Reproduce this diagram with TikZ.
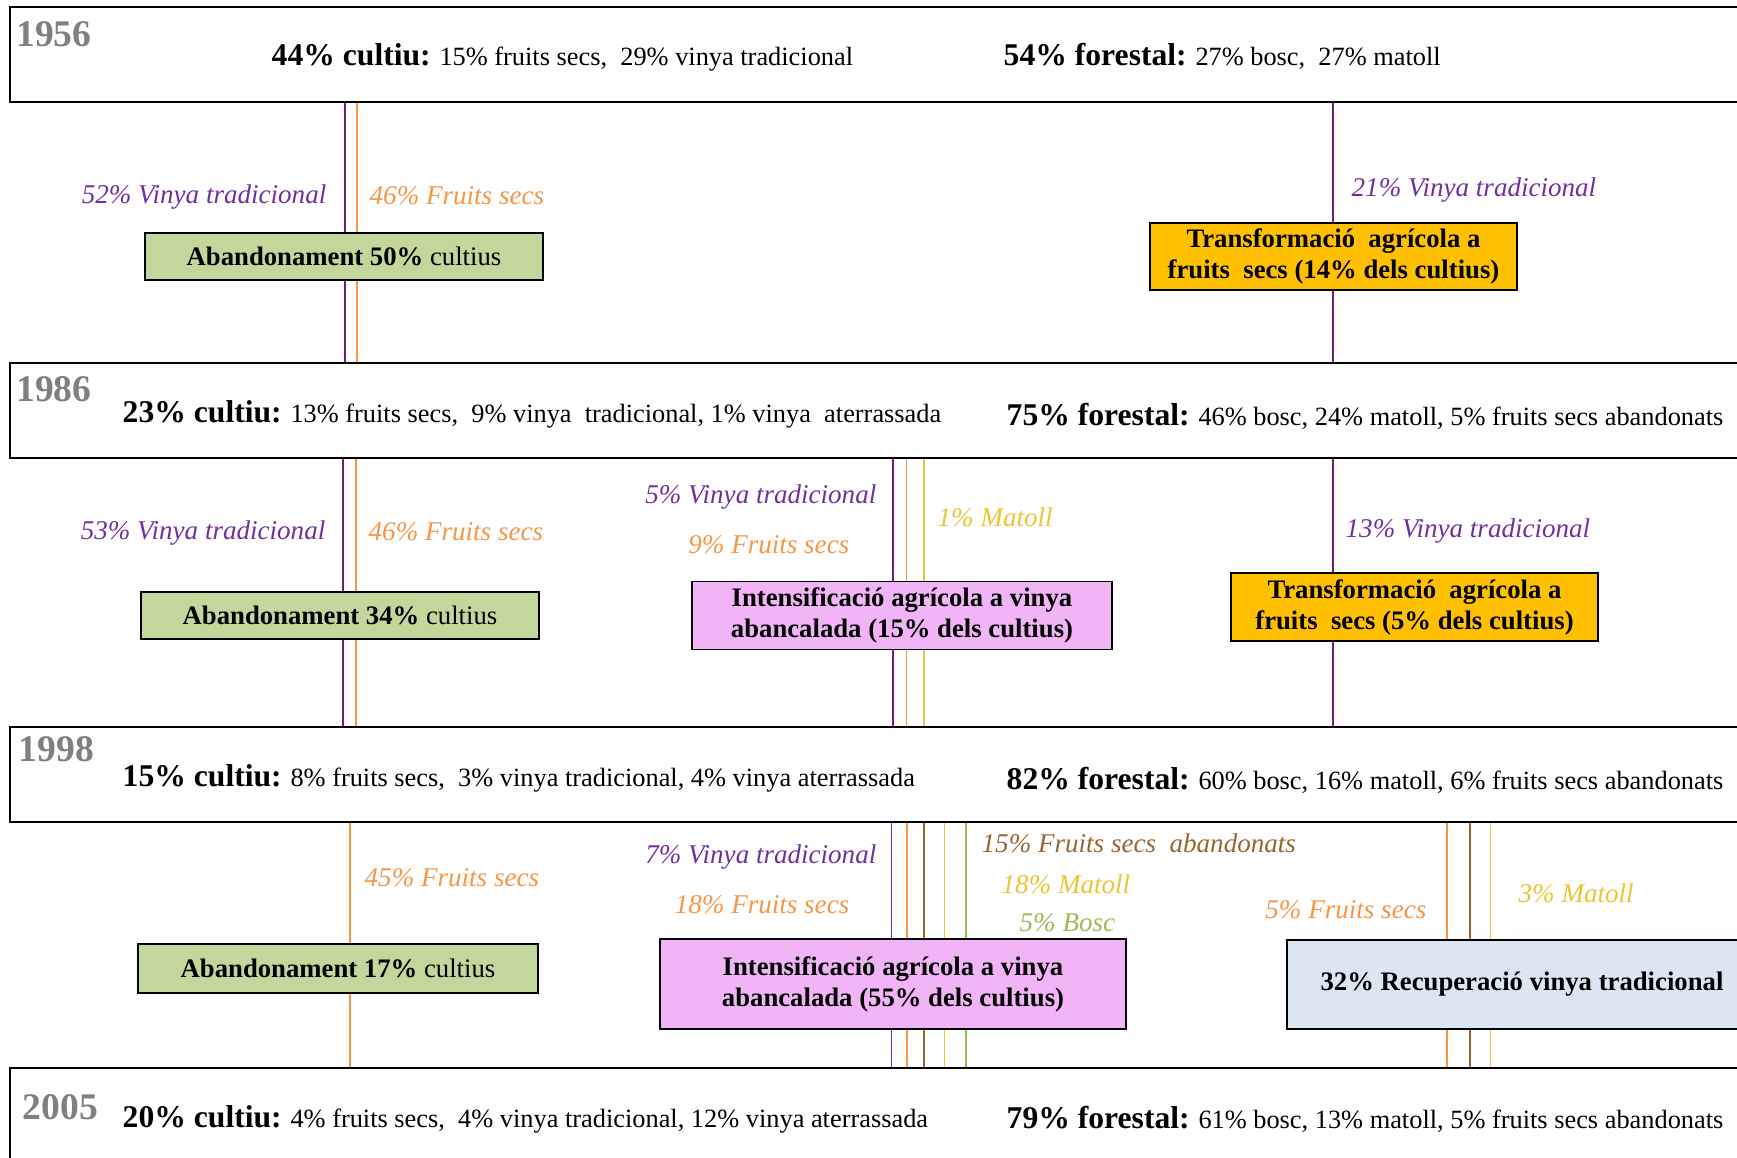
\documentclass[tikz,border=0pt]{standalone}
\usepackage{fontspec}
\setmainfont{Liberation Serif}
\definecolor{yeargray}{RGB}{128,128,128}
\definecolor{lnpurple}{RGB}{112,30,120}
\definecolor{txpurple}{RGB}{112,48,160}
\definecolor{lnorange}{RGB}{247,150,70}
\definecolor{lnyellow}{RGB}{235,198,50}
\definecolor{lnbrown}{RGB}{153,102,51}
\definecolor{lngreen}{RGB}{155,187,89}
\definecolor{boxgreen}{RGB}{195,214,155}
\definecolor{boxpink}{RGB}{241,180,247}
\definecolor{boxorange}{RGB}{255,192,0}
\definecolor{boxblue}{RGB}{220,230,242}
\newcommand{\hd}[1]{{\fontsize{9}{10}\selectfont\bfseries #1}}
\begin{document}
\begin{tikzpicture}[x=1cm, y=-1cm, font=\fontsize{7.5}{9}\selectfont,
    band/.style={draw, line width=0.6pt, minimum width=17.6cm, minimum height=0.95cm, anchor=north west, inner sep=0pt},
    yr/.style={anchor=base west, inner sep=0pt, text=yeargray, font=\fontsize{10.7}{12}\selectfont\bfseries},
    txt/.style={anchor=base west, inner sep=0pt},
    lab/.style={inner sep=0pt, font=\fontsize{7.7}{9}\selectfont\itshape},
    chg/.style={draw, line width=0.55pt, inner sep=0pt, align=center, font=\fontsize{7.6}{8.8}\selectfont\bfseries},
    flow/.style={line width=0.4pt}]
    \clip (0,0) rectangle (17.37,11.57);
    \node[band] (b56) at (0.09, 0.06) {};
    \node[band] (b86) at (0.09, 3.62) {};
    \node[band] (b98) at (0.09, 7.26) {};
    \node[band, minimum height=1.2cm] (b05) at (0.09, 10.67) {};
    \node[yr] (y56) at (0.155, 0.46) {1956};
    \node[yr] (y86) at (0.155, 4.01) {1986};
    \node[yr] (y98) at (0.18, 7.61) {1998};
    \node[yr] (y05) at (0.22, 11.19) {2005};
    \node[txt] (c56) at (2.71, 0.65) {\hd{44\% cultiu:} 15\% fruits secs,\ \ 29\% vinya tradicional};
    \node[txt] (f56) at (10.03, 0.65) {\hd{54\% forestal:} 27\% bosc,\ \ 27\% matoll};
    \node[txt] (c86) at (1.22, 4.22) {\hd{23\% cultiu:} 13\% fruits secs,\ \ 9\% vinya\ \ tradicional, 1\% vinya\ \ aterrassada};
    \node[txt] (f86) at (10.06, 4.25) {\hd{75\% forestal:} 46\% bosc, 24\% matoll, 5\% fruits secs abandonats};
    \node[txt] (c98) at (1.22, 7.86) {\hd{15\% cultiu:} 8\% fruits secs,\ \ 3\% vinya tradicional, 4\% vinya aterrassada};
    \node[txt] (f98) at (10.06, 7.89) {\hd{82\% forestal:} 60\% bosc, 16\% matoll, 6\% fruits secs abandonats};
    \node[txt] (c05) at (1.22, 11.27) {\hd{20\% cultiu:} 4\% fruits secs,\ \ 4\% vinya tradicional, 12\% vinya aterrassada};
    \node[txt] (f05) at (10.06, 11.28) {\hd{79\% forestal:} 61\% bosc, 13\% matoll, 5\% fruits secs abandonats};
    \draw[flow, lnpurple] (b56.south -| 3.45,0) -- (b86.north -| 3.45,0);
    \draw[flow, lnorange] (b56.south -| 3.57,0) -- (b86.north -| 3.57,0);
    \draw[flow, lnpurple] (b56.south -| 13.33,0) -- (b86.north -| 13.33,0);
    \draw[flow, lnpurple] (b86.south -| 3.43,0) -- (b98.north -| 3.43,0);
    \draw[flow, lnorange] (b86.south -| 3.56,0) -- (b98.north -| 3.56,0);
    \draw[flow, lnpurple] (b86.south -| 8.93,0) -- (b98.north -| 8.93,0);
    \draw[flow, lnorange] (b86.south -| 9.065,0) -- (b98.north -| 9.065,0);
    \draw[flow, lnyellow] (b86.south -| 9.24,0) -- (b98.north -| 9.24,0);
    \draw[flow, lnpurple] (b86.south -| 13.33,0) -- (b98.north -| 13.33,0);
    \draw[flow, lnorange] (b98.south -| 3.50,0) -- (b05.north -| 3.50,0);
    \draw[flow, txpurple] (b98.south -| 8.915,0) -- (b05.north -| 8.915,0);
    \draw[flow, lnorange] (b98.south -| 9.07,0) -- (b05.north -| 9.07,0);
    \draw[flow, lnbrown] (b98.south -| 9.24,0) -- (b05.north -| 9.24,0);
    \draw[flow, lnyellow] (b98.south -| 9.445,0) -- (b05.north -| 9.445,0);
    \draw[flow, lngreen] (b98.south -| 9.66,0) -- (b05.north -| 9.66,0);
    \draw[flow, lnorange] (b98.south -| 14.47,0) -- (b05.north -| 14.47,0);
    \draw[flow, lnbrown] (b98.south -| 14.70,0) -- (b05.north -| 14.70,0);
    \draw[flow, lnyellow] (b98.south -| 14.905,0) -- (b05.north -| 14.905,0);
    \node[lab, text=txpurple, anchor=base east] (l1a) at (3.27, 2.03) {52\% Vinya tradicional};
    \node[lab, text=lnorange, anchor=base west] (l1b) at (3.69, 2.04) {46\% Fruits secs};
    \node[lab, text=txpurple, anchor=base west] (l1c) at (13.51, 1.96) {21\% Vinya tradicional};
    \node[lab, text=txpurple, anchor=base east] (l2a) at (3.26, 5.39) {53\% Vinya tradicional};
    \node[lab, text=lnorange, anchor=base west] (l2b) at (3.68, 5.40) {46\% Fruits secs};
    \node[lab, text=txpurple, anchor=base east] (l2c) at (8.77, 5.03) {5\% Vinya tradicional};
    \node[lab, text=lnorange, anchor=base east] (l2d) at (8.50, 5.53) {9\% Fruits secs};
    \node[lab, text=lnyellow, anchor=base west] (l2e) at (9.37, 5.26) {1\% Matoll};
    \node[lab, text=txpurple, anchor=base west] (l2f) at (13.45, 5.37) {13\% Vinya tradicional};
    \node[lab, text=lnorange, anchor=base west] (l3a) at (3.64, 8.86) {45\% Fruits secs};
    \node[lab, text=txpurple, anchor=base east] (l3b) at (8.77, 8.63) {7\% Vinya tradicional};
    \node[lab, text=lnorange, anchor=base east] (l3c) at (8.50, 9.13) {18\% Fruits secs};
    \node[lab, text=lnbrown, anchor=base west] (l3d) at (9.81, 8.52) {15\% Fruits secs\ \ abandonats};
    \node[lab, text=lnyellow, anchor=base west] (l3e) at (10.01, 8.93) {18\% Matoll};
    \node[lab, text=lngreen, anchor=base west] (l3f) at (10.19, 9.31) {5\% Bosc};
    \node[lab, text=lnorange, anchor=base east] (l3g) at (14.27, 9.18) {5\% Fruits secs};
    \node[lab, text=lnyellow, anchor=base west] (l3h) at (15.18, 9.02) {3\% Matoll};
    \node[chg, fill=boxgreen, minimum width=3.98cm, minimum height=0.47cm] (g1) at (3.44, 2.565) {Abandonament 50\% {\mdseries cultius}};
    \node[chg, fill=boxorange, minimum width=3.67cm, minimum height=0.67cm] (o1) at (13.335, 2.565) {Transformació\ \ agrícola a\\fruits\ \ secs (14\% dels cultius)};
    \node[chg, fill=boxgreen, minimum width=3.98cm, minimum height=0.47cm] (g2) at (3.40, 6.155) {Abandonament 34\% {\mdseries cultius}};
    \node[chg, fill=boxpink, minimum width=4.20cm, minimum height=0.68cm] (p2) at (9.02, 6.155) {Intensificació agrícola a vinya\\abancalada (15\% dels cultius)};
    \node[chg, fill=boxorange, minimum width=3.67cm, minimum height=0.68cm] (o2) at (14.145, 6.07) {Transformació\ \ agrícola a\\fruits\ \ secs (5\% dels cultius)};
    \node[chg, fill=boxgreen, minimum width=4.00cm, minimum height=0.49cm] (g3) at (3.38, 9.685) {Abandonament 17\% {\mdseries cultius}};
    \node[chg, fill=boxpink, minimum width=4.66cm, minimum height=0.90cm] (p3) at (8.93, 9.84) {Intensificació agrícola a vinya\\abancalada (55\% dels cultius)};
    \node[chg, fill=boxblue, minimum width=4.70cm, minimum height=0.89cm, anchor=west] (r3) at (12.86, 9.845) {32\% Recuperació vinya tradicional};
\end{tikzpicture}
\end{document}
